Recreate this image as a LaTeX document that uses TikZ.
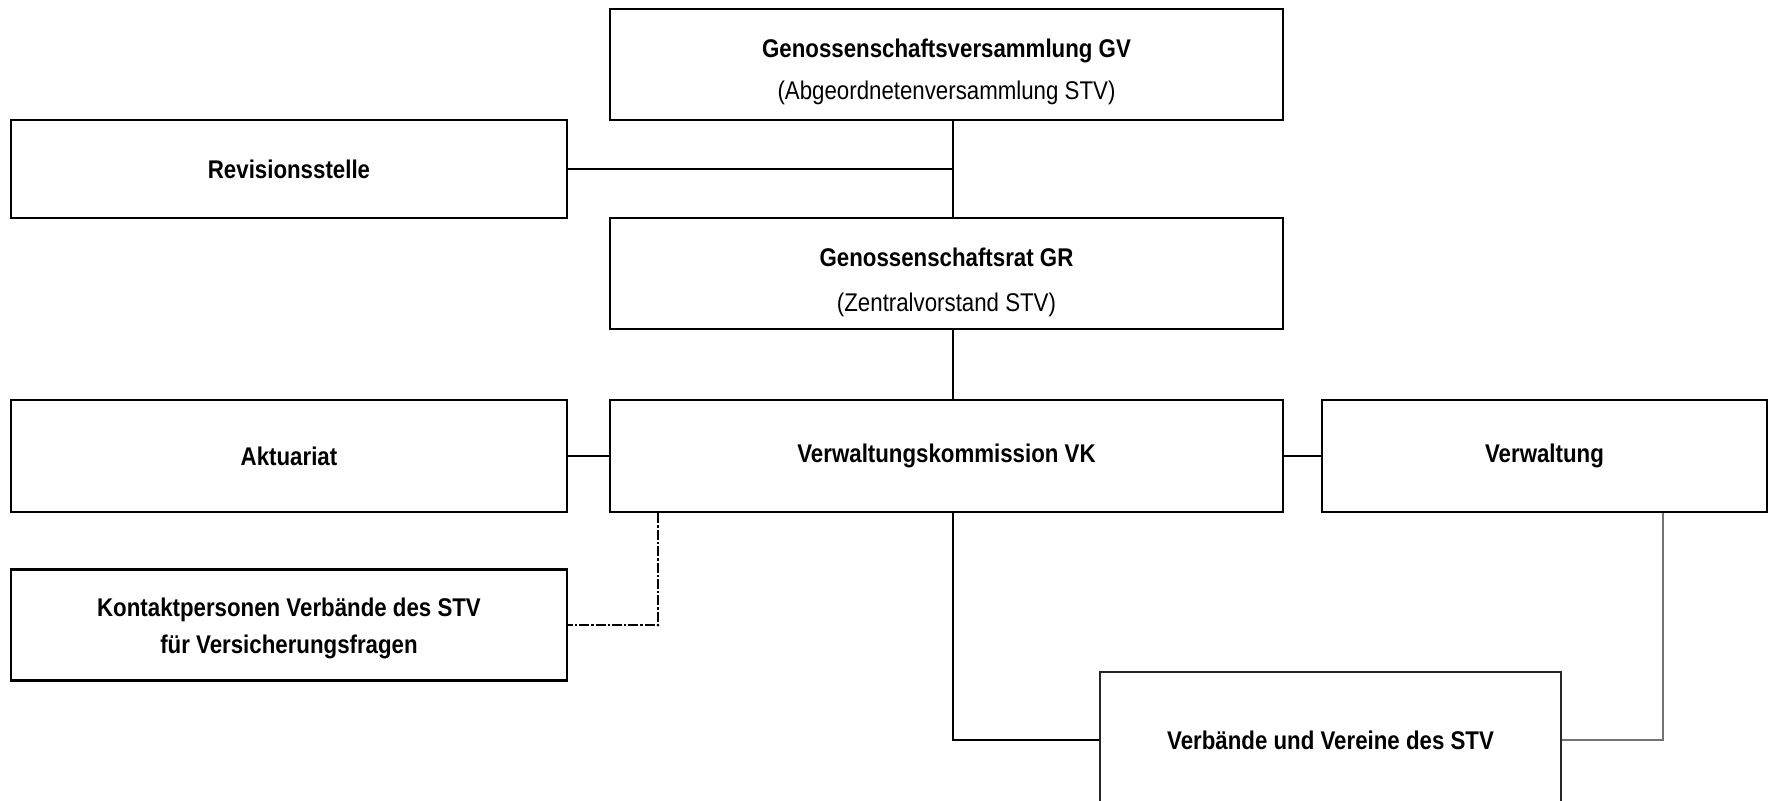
\documentclass[tikz,border=0pt]{standalone}
\usepackage{fontspec}
\setmainfont[FakeStretch=0.87]{Liberation Sans}
\begin{document}
\begin{tikzpicture}[x=0.5pt,y=-0.5pt,
  box/.style={draw=black, line width=1.4pt, fill=white, inner sep=0pt, align=center,
    font=\fontsize{12.8}{15}\selectfont\bfseries},
  conn/.style={draw=black, line width=1.3pt},
  grayconn/.style={draw=black!55, line width=0.9pt},
  dashconn/.style={draw=black, line width=1pt, dash pattern=on 5pt off 1pt on 1.2pt off 1pt},
  thinbox/.style={box, line width=0.8pt, draw=black!85}]
\useasboundingbox (0,0) rectangle (1769,800);
\clip (0,0) rectangle (1769,800);
\coordinate (spine) at (953,0);
\coordinate (vx) at (1663,0);
\coordinate (dx) at (658,0);

\node[box, minimum width=336.5pt, minimum height=55.5pt] (gv) at (946.5,64.5)
  {\rule{0pt}{17pt}Genossenschaftsversammlung GV\\[6pt]\mdseries(Abgeordnetenversammlung STV)};
\node[box, minimum width=278pt, minimum height=49pt] (rev) at (289,169) {Revisionsstelle};
\node[box, minimum width=336.5pt, minimum height=55.5pt] (gr) at (946.5,273.5)
  {\rule{0pt}{18pt}Genossenschaftsrat GR\\[7.5pt]\mdseries(Zentralvorstand STV)};
\node[box, minimum width=336.5pt, minimum height=56pt] (vk) at (946.5,456) {Verwaltungskommission VK};
\node[box, minimum width=278pt, minimum height=56pt] (akt) at (289,456) {Aktuariat};
\node[box, minimum width=222.5pt, minimum height=56pt] (verw) at (1544.5,456) {Verwaltung};
\node[box, minimum width=278pt, minimum height=55.5pt] (kon) at (289,625)
  {\rule{0pt}{13pt}Kontaktpersonen Verbände des STV\\[3.5pt]für Versicherungsfragen};
\node[thinbox, minimum width=230.5pt, minimum height=68pt] (vv) at (1330.5,740) {Verbände und Vereine des STV};

\draw[conn] (gv.south -| spine) -- (gr.north -| spine);
\draw[conn] (rev.east) -- (rev.east -| spine);
\draw[conn] (gr.south -| spine) -- (vk.north -| spine);
\draw[conn] (akt.east) -- (vk.west);
\draw[conn] (vk.east) -- (verw.west);
\draw[conn, line width=1pt] (vk.south -| spine) |- (vv.west);
\draw[grayconn] (verw.south -| vx) |- (vv.east);
\draw[dashconn] (vk.south -| dx) |- (kon.east);
\fill (kon.east -| dx) circle (1.5);
\end{tikzpicture}
\end{document}
